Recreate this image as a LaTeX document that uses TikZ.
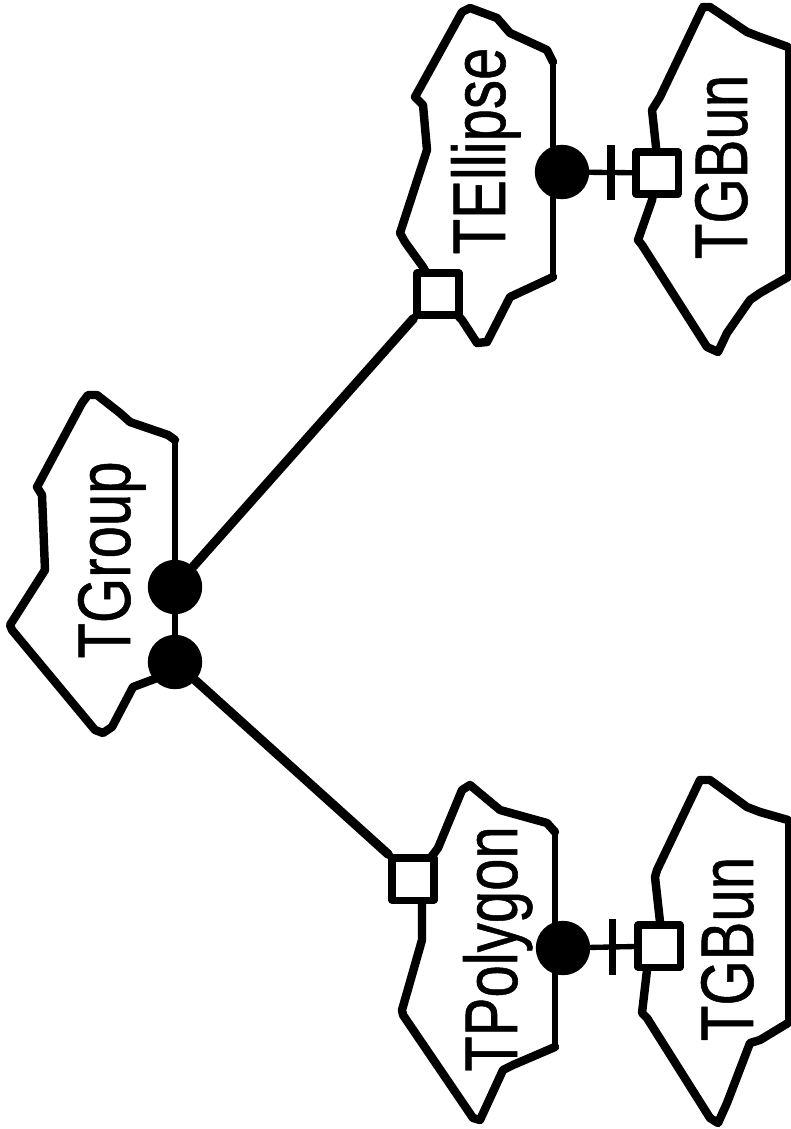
\documentclass[tikz,border=0pt]{standalone}
\usepackage{fontspec}
\usepackage{graphicx}
\newfontfamily\clsfont[FakeBold=0.8]{Liberation Sans}
\newcommand{\clsname}[1]{\scalebox{0.78}[1]{\clsfont\fontsize{53}{60}\selectfont #1}}

\begin{document}
\begin{tikzpicture}[x=0.025cm,y=-0.025cm,line join=round,line cap=round,
  cloud/.style={line width=6pt},
  cloudedge/.style={line width=4.2pt},
  conn/.style={line width=6.5pt},
  link/.style={line width=3.8pt},
  hasdot/.style={circle,fill=black,inner sep=0pt,minimum size=1.36cm},
  usebox/.style={rectangle,draw,fill=white,line width=5pt,inner sep=0pt,minimum size=1.05cm},
  barmark/.style={rectangle,fill=black,inner sep=0pt,minimum width=5pt,minimum height=1.38cm},
  clslabel/.style={rotate=90,anchor=base,inner sep=0pt}]
\useasboundingbox (0,0) rectangle (790,1129);
%Wolken:
\draw[cloud] (175,440) -- (168,435) -- (130,422) -- (120,413) -- (97,395) -- (88,395) -- (82,403) -- (37,487) -- (42,495) -- (45,570) -- (10,625) -- (12,630) -- (95,730) -- (103,733) -- (112,727) -- (133,687) -- (157,678) -- (175,662);
\draw[cloudedge] (175,440) -- (175,662);
\draw[cloud] (553,62) -- (547,50) -- (510,33) -- (497,18) -- (470,8) -- (462,12) -- (415,97) -- (423,105) -- (427,150) -- (400,233) -- (405,242) -- (423,267) -- (438,294) -- (462,320) -- (477,343) -- (487,342) -- (510,297) -- (553,277);
\draw[cloudedge] (553,62) -- (553,277);
\draw[cloud] (788,47) -- (760,37) -- (747,32) -- (710,7) -- (703,7) -- (660,97) -- (652,110) -- (656,147) -- (657,173) -- (652,200) -- (638,240) -- (642,245) -- (707,347) -- (718,352) -- (727,333) -- (750,300) -- (760,293) -- (788,277);
\draw[cloudedge] (788,47) -- (788,277);
\draw[cloud] (555,832) -- (547,823) -- (500,810) -- (470,785) -- (462,790) -- (438,848) -- (415,879) -- (422,903) -- (422,940) -- (402,1010) -- (403,1015) -- (473,1118) -- (480,1120) -- (503,1070) -- (513,1065) -- (555,1047);
\draw[cloudedge] (555,832) -- (555,1047);
\draw[cloud] (788,820) -- (760,812) -- (747,807) -- (710,780) -- (700,780) -- (657,870) -- (655,877) -- (660,922) -- (659,946) -- (647,970) -- (642,1013) -- (647,1018) -- (710,1118) -- (718,1123) -- (727,1103) -- (750,1043) -- (760,1040) -- (788,1023);
\draw[cloudedge] (788,820) -- (788,1023);
%Adornments:
\node[hasdot] (grp1) at (175,587) {};
\node[hasdot] (grp2) at (175,662) {};
\node[usebox] (ell) at (438,294) {};
\node[hasdot] (ellhas) at (562,172) {};
\node[usebox] (ellbun) at (657,173) {};
\node[usebox] (pol) at (413,879) {};
\node[hasdot] (polhas) at (563,948) {};
\node[usebox] (polbun) at (659,946) {};
%Klassennamen:
\node[clslabel] (lgrp) at (130,560) {\clsname{TGroup}};
\node[clslabel] (lell) at (505,151) {\clsname{TEllipse}};
\node[clslabel] (lellbun) at (747,167) {\clsname{TGBun}};
\node[clslabel] (lpol) at (517,949) {\clsname{TPolygon}};
\node[clslabel] (lpolbun) at (753,949) {\clsname{TGBun}};
%Beziehungen:
\draw[conn] (grp1) -- (ell.south west);
\draw[conn] (grp2) -- (pol.north west);
\draw[link] (ellhas) -- node[barmark]{} (ellbun);
\draw[link] (polhas) -- node[barmark]{} (polbun);
\end{tikzpicture}
\end{document}
